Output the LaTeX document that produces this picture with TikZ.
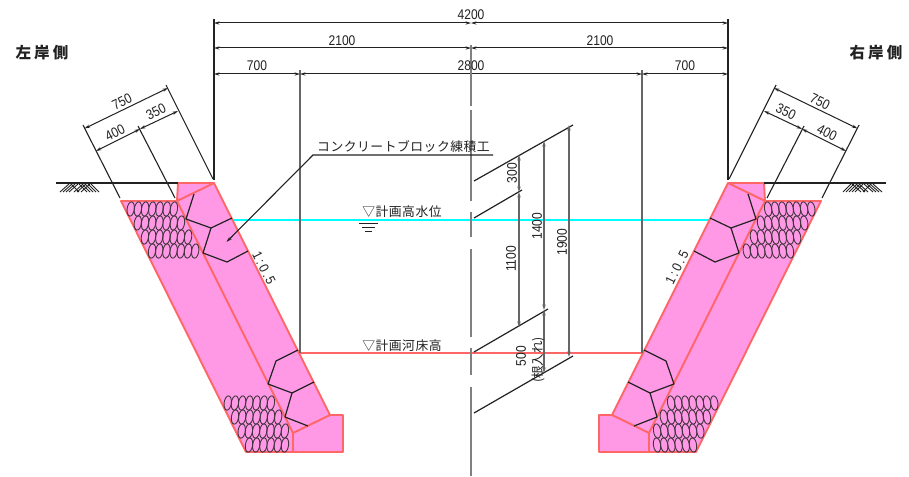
\documentclass[tikz,border=0pt]{standalone}
\usepackage{fontspec}
\setmainfont{Liberation Sans}
\newfontfamily\jpf[LetterSpace=4]{Noto Sans CJK JP}
\newfontfamily\jpn{Noto Sans CJK JP}
\newfontfamily\jpw[LetterSpace=20]{Noto Sans CJK JP}
\newfontfamily\dgf[FakeStretch=0.86]{Liberation Sans}
\newfontfamily\dgs[FakeStretch=0.9,LetterSpace=16]{Liberation Sans}
\usetikzlibrary{arrows.meta}
\definecolor{wallpink}{HTML}{FF99E6}
\definecolor{wallred}{HTML}{FF6666}
\definecolor{watercyan}{HTML}{00FFFF}
\definecolor{inkdark}{HTML}{222222}
\definecolor{inkgrey}{HTML}{666666}
\definecolor{centergrey}{HTML}{808080}
\tikzset{
  wall/.style={fill=wallpink,draw=wallred,line width=1.9pt,line join=round},
  blockline/.style={draw=inkdark,line width=1.2pt,line join=round},
  extline/.style={draw=inkdark,line width=1.1pt},
  dimline/.style={draw=inkdark,line width=1pt,{Stealth[length=5.5pt,width=3.2pt]}-{Stealth[length=5.5pt,width=3.2pt]}},
  vdim/.style={draw=inkgrey,line width=1.5pt,{Stealth[length=5.5pt,width=3.4pt]}-{Stealth[length=5.5pt,width=3.4pt]}},
  guide/.style={draw=inkgrey,line width=1.5pt},
  numlabel/.style={font=\dgf\fontsize{14}{14}\selectfont,text=inkdark,inner sep=0pt},
  slopelabel/.style={font=\dgs\fontsize{13.5}{14}\selectfont,text=inkdark,inner sep=0pt},
  jplabel/.style={font=\jpf\fontsize{12.8}{13}\selectfont,text=inkdark,inner sep=0pt},
  sidelabel/.style={font=\jpw\bfseries\fontsize{15.5}{15}\selectfont,text=inkdark,inner sep=0pt},
  gabion/.style={draw=inkdark!85!wallpink,line width=0.9pt},
  hatchline/.style={draw=inkdark,line width=0.9pt},
}
\newcommand{\halfsection}{%
  % wall bodies
  \fill[wallpink] (121,201) -- (177,201) -- (178,183) -- (214,183) -- (330,415) -- (343,415) -- (343,452) -- (246,452) -- cycle;
  \draw[wall,fill=none] (121,201) -- (177,201) -- (293,433) -- (293,452) -- (246,452) -- cycle;
  \draw[wall,fill=none] (177,201) -- (178,183) -- (214,183) -- cycle;
  \draw[wall,fill=none] (214,183) -- (330,415) -- (293,433);
  \draw[wall,fill=none] (330,415) -- (343,415) -- (343,452) -- (293,452);
  % gabions
  \foreach \cy/\xa/\cnt in {209/130.7/7,223/137.8/7,237/144.9/7,251/152/7,403/227.7/7,417/235/7,431/241.7/7,445/249/6}{
    \foreach \k in {1,...,\cnt}{
      \pgfmathsetmacro{\cx}{\xa+(\k-1)*7.2}
      \draw[gabion,rotate around={8:(\cx,\cy)}] (\cx,\cy) ellipse [x radius=3.6,y radius=7.2];
    }
  }
  % masonry joints
  \draw[blockline] (194,194) -- (186,219) -- (211,228) -- (232,218);
  \draw[blockline] (211,228) -- (203,253) -- (227,262) -- (248,251);
  \draw[blockline] (298,350) -- (276,361) -- (268,384) -- (292,393) -- (314,382);
  \draw[blockline] (292,393) -- (285,417) -- (308,426);
  % ground
  \draw[extline] (56,183) -- (178,183);
  \foreach \xx in {60,63,66,69,74,77,81}{\draw[hatchline] (\xx,192) -- (\xx+9,184);}
  \foreach \xx in {70,78,81,84,87,90}{\draw[hatchline] (\xx+1,184) -- (\xx+9,192);}
  % slanted dimensions
  \draw[extline] (83,125) -- (120,198);
  \draw[extline] (138,126) -- (175,198);
  \draw[extline] (166,85) -- (213,179);
  \draw[dimline] (84.5,128.5) -- (168,88);
  \draw[dimline] (96,151) -- (140,129);
  \draw[dimline] (140,129) -- (178,111);
  % verticals
  \draw[draw=inkdark,line width=1.6pt] (214,19) -- (214,180);
  \draw[guide] (300,70) -- (300,353);
  % upper dimensions
  \draw[dimline] (214,74) -- (300,74);
  \draw[dimline] (214,48) -- (471,48);
  \draw[dimline] (214,23) -- (471,23);
}
\begin{document}
\begin{tikzpicture}[x=1pt,y=1pt,yscale=-1]
\useasboundingbox (0,0) rectangle (909,476);
\fill[white] (0,0) rectangle (909,476);
% water and bed
\draw[draw=watercyan,line width=1.8pt] (232,220) -- (710,220);
\draw[draw=wallred,line width=1.8pt] (300,353) -- (642,353);
\halfsection
\begin{scope}[shift={(942,0)},xscale=-1]
\halfsection
\end{scope}
\draw[dimline] (300,74) -- (642,74);
% centre line
\foreach \ya/\yb in {45/106,110/200.5,212/237,249/337,348/375,387/476}{
  \draw[draw=centergrey,line width=1.9pt] (471,\ya) -- (471,\yb);
}
% level lines
\draw[blockline] (474,181) -- (573,125);
\draw[blockline] (474,218) -- (522,190);
\draw[blockline] (474,352) -- (548,309);
\draw[blockline] (474,413) -- (573,356);
% vertical dimensions
\draw[vdim] (519,155) -- (519,192);
\draw[vdim] (519,192) -- (519,327);
\draw[vdim] (544,141) -- (544,310);
\draw[vdim] (544,310) -- (544,373);
\draw[vdim] (569,125) -- (569,357);
% leader
\node[jplabel] (blockname) at (403.5,147) {コンクリートブロック練積工};
\coordinate (leadertip) at (226.5,242);
\coordinate (leaderknee) at (313,155);
\coordinate (leaderend) at (493,155);
\draw[draw=inkdark,line width=1.1pt,{Stealth[length=5.5pt,width=3.2pt]}-] (leadertip) -- (leaderknee) -- (leaderend);
% water mark
\draw[draw=inkdark,line width=1pt] (359,223) -- (378,223);
\draw[draw=inkdark,line width=1pt] (362,227) -- (375,227);
\draw[draw=inkdark,line width=1pt] (365,231) -- (372,231);
% labels
\node[sidelabel] (leftbank) at (42,53) {左岸側};
\node[sidelabel] (rightbank) at (876,53) {右岸側};
\node[jplabel] (hwl) at (402,212) {▽計画高水位};
\node[jplabel] (bedl) at (402,346) {▽計画河床高};
\node[numlabel] (d4200) at (471,15) {4200};
\node[numlabel] (d2100l) at (342,41) {2100};
\node[numlabel] (d2100r) at (600,41) {2100};
\node[numlabel] (d700l) at (257,66) {700};
\node[numlabel] (d2800) at (471,66) {2800};
\node[numlabel] (d700r) at (685,66) {700};
\node[numlabel,rotate=26.5] (l750) at (122,102) {750};
\node[numlabel,rotate=26.5] (l400) at (115,133) {400};
\node[numlabel,rotate=26.5] (l350) at (156,112) {350};
\node[numlabel,rotate=-26.5] (r750) at (820,102) {750};
\node[numlabel,rotate=-26.5] (r400) at (827,133) {400};
\node[numlabel,rotate=-26.5] (r350) at (786,112) {350};
\node[slopelabel,rotate=-63.5] (sl) at (264,268) {1:0.5};
\node[slopelabel,rotate=63.5] (sr) at (677,267) {1:0.5};
\node[numlabel,rotate=90] (v300) at (512,173) {300};
\node[numlabel,rotate=90] (v1100) at (511,259) {1100};
\node[numlabel,rotate=90] (v1400) at (537,226) {1400};
\node[numlabel,rotate=90] (v1900) at (562,242) {1900};
\node[numlabel,rotate=90] (v500) at (521,356) {500};
\node[text=inkdark,inner sep=0pt,rotate=90,font=\jpn\fontsize{12.5}{13}\selectfont] (nei) at (538,360) {(根入れ)};
\end{tikzpicture}
\end{document}
